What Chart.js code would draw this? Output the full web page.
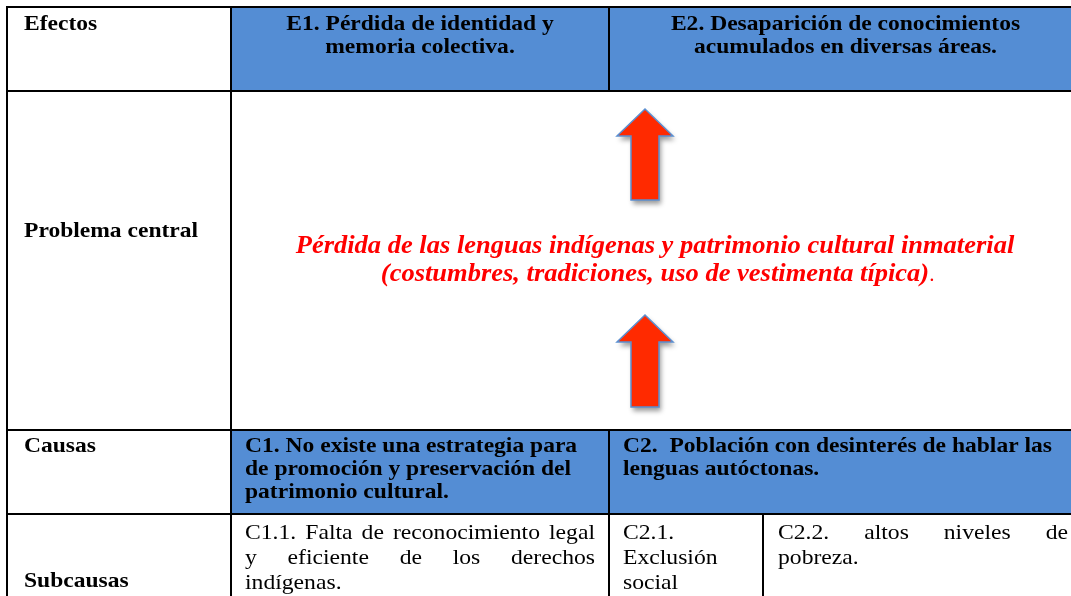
<!DOCTYPE html>
<html>
<head>
<meta charset="utf-8">
<script src="https://cdn.jsdelivr.net/npm/chart.js@4/dist/chart.umd.min.js"></script>
<style>
  html, body { margin: 0; padding: 0; background: #fff; }
  canvas { display: block; }
</style>
</head>
<body>
<canvas id="treeChart" width="1071" height="596"></canvas>
<script>
// Problem tree table (effects / central problem / causes / subcauses)
const rowLabels = ['Efectos', 'Problema central', 'Causas', 'Subcausas'];
const effects = [
    ['E1. Pérdida de identidad y', 'memoria colectiva.'],
    ['E2. Desaparición de conocimientos', 'acumulados en diversas áreas.']
];
const centralProblem = [
    'Pérdida de las lenguas indígenas y patrimonio cultural inmaterial',
    '(costumbres, tradiciones, uso de vestimenta típica)'
];
const causes = [
    ['C1. No existe una estrategia para', 'de promoción y preservación del', 'patrimonio cultural.'],
    ['C2.  Población con desinterés de hablar las', 'lenguas autóctonas.']
];
const subcauses = [
    ['C1.1. Falta de reconocimiento legal', 'y eficiente de los derechos', 'indígenas.'],
    ['C2.1.', 'Exclusión', 'social'],
    ['C2.2. altos niveles de', 'pobreza.']
];

// layout of the grid (page units, mapped through the hidden scales)
const colEdges = [7, 231, 609, 1090];
const subSplit = 763;
const rowEdges = [7, 91, 430, 514, 610];
const arrows = [{ tip: 109, base: 200 }, { tip: 315, base: 407 }];
const arrowX = 645;

const blue = '#548dd4';
const serif = '"Liberation Serif", "Times New Roman", serif';

// the source font is a bit wider than Liberation Serif
function wideText(ctx, text, x, y, sx) {
    ctx.save();
    ctx.translate(x, y);
    ctx.scale(sx, 1);
    ctx.fillText(text, 0, 0);
    ctx.restore();
}

const tablePlugin = {
    id: 'tablePlugin',
    afterDraw(chart) {
        const ctx = chart.ctx;
        const px = v => chart.scales.x.getPixelForValue(v);
        const py = v => chart.scales.y.getPixelForValue(v);

        ctx.save();

        // Blue cells
        ctx.fillStyle = blue;
        [0, 2].forEach(r => {
            ctx.fillRect(px(colEdges[1]), py(rowEdges[r]), px(colEdges[3]) - px(colEdges[1]), py(rowEdges[r + 1]) - py(rowEdges[r]));
        });

        // Arrows
        arrows.forEach(a => {
            const tip = py(a.tip), base = py(a.base);
            const wing = tip + 27;
            const cx = px(arrowX);
            ctx.save();
            ctx.shadowColor = 'rgba(0,0,0,0.4)';
            ctx.shadowBlur = 5;
            ctx.shadowOffsetX = 2;
            ctx.shadowOffsetY = 4;
            ctx.beginPath();
            ctx.moveTo(cx, tip);
            ctx.lineTo(cx + 28, wing);
            ctx.lineTo(cx + 14, wing);
            ctx.lineTo(cx + 14, base);
            ctx.lineTo(cx - 14, base);
            ctx.lineTo(cx - 14, wing);
            ctx.lineTo(cx - 28, wing);
            ctx.closePath();
            ctx.fillStyle = '#ff2a00';
            ctx.fill();
            ctx.restore();
            ctx.lineWidth = 1.5;
            ctx.strokeStyle = '#5b8fd0';
            ctx.stroke();
        });

        // Grid lines
        ctx.strokeStyle = '#000';
        ctx.lineWidth = 2;
        ctx.beginPath();
        rowEdges.forEach(y => {
            ctx.moveTo(px(colEdges[0]) - 1, py(y));
            ctx.lineTo(px(colEdges[3]), py(y));
        });
        colEdges.forEach((x, i) => {
            if (i === 2) {
                // merged cell in the central problem row
                ctx.moveTo(px(x), py(rowEdges[0]));
                ctx.lineTo(px(x), py(rowEdges[1]));
                ctx.moveTo(px(x), py(rowEdges[2]));
                ctx.lineTo(px(x), py(rowEdges[4]));
                return;
            }
            ctx.moveTo(px(x), py(rowEdges[0]));
            ctx.lineTo(px(x), py(rowEdges[4]));
        });
        ctx.moveTo(px(subSplit), py(rowEdges[3]));
        ctx.lineTo(px(subSplit), py(rowEdges[4]));
        ctx.stroke();

        const boldSx = 1.07;
        const regSx = 1.1;

        // Row labels
        ctx.fillStyle = '#000';
        ctx.font = 'bold 22px ' + serif;
        ctx.textAlign = 'left';
        ctx.textBaseline = 'alphabetic';
        const labelY = [30, 237, 452, 587];
        rowLabels.forEach((t, i) => wideText(ctx, t, px(24), py(labelY[i]), boldSx));

        // Effects (centred)
        ctx.textAlign = 'center';
        effects.forEach((lines, c) => {
            const cx = (px(colEdges[c + 1]) + px(c === 1 ? 1082 : colEdges[c + 2])) / 2;
            lines.forEach((t, i) => wideText(ctx, t, cx, py(30 + i * 23), boldSx));
        });

        // Central problem
        ctx.fillStyle = '#ff0000';
        ctx.font = 'italic bold 25px ' + serif;
        const redSx = 1.06;
        const midX = px(655);
        wideText(ctx, centralProblem[0], midX, py(253), redSx);
        wideText(ctx, centralProblem[1], midX, py(281), redSx);
        const w1 = ctx.measureText(centralProblem[1]).width * redSx;
        ctx.textAlign = 'left';
        ctx.font = '21px ' + serif;
        ctx.fillText('.', midX + w1 / 2, py(281));

        // Causes
        ctx.fillStyle = '#000';
        ctx.font = 'bold 22px ' + serif;
        causes.forEach((lines, c) => {
            const x0 = px(colEdges[c + 1] + 14);
            lines.forEach((t, i) => wideText(ctx, t, x0, py(452 + i * 23), boldSx));
        });

        // Subcauses (justified like the source table)
        ctx.font = '21.5px ' + serif;
        const subCells = [
            [colEdges[1] + 14, colEdges[2] - 14],
            [colEdges[2] + 14, subSplit - 8],
            [subSplit + 15, 1068]
        ];
        subcauses.forEach((lines, c) => {
            const [l, r] = subCells[c];
            lines.forEach((t, i) => {
                const y = py(539 + i * 25);
                const words = t.split(' ');
                const last = i === lines.length - 1;
                if (last || words.length < 2) {
                    wideText(ctx, t, px(l), y, regSx);
                    return;
                }
                const total = words.reduce((s, w) => s + ctx.measureText(w).width * regSx, 0);
                const gap = (px(r) - px(l) - total) / (words.length - 1);
                let x = px(l);
                words.forEach(w => {
                    wideText(ctx, w, x, y, regSx);
                    x += ctx.measureText(w).width * regSx + gap;
                });
            });
        });

        ctx.restore();
    }
};

new Chart(document.getElementById('treeChart'), {
    type: 'scatter',
    data: { datasets: [{ data: [] }] },
    options: {
        responsive: false,
        animation: false,
        devicePixelRatio: 1,
        layout: { padding: 0 },
        plugins: { legend: { display: false }, tooltip: { enabled: false } },
        scales: {
            x: { type: 'linear', min: 0, max: 1071, display: false },
            y: { type: 'linear', min: 0, max: 596, reverse: true, display: false }
        }
    },
    plugins: [tablePlugin]
});
</script>
</body>
</html>
